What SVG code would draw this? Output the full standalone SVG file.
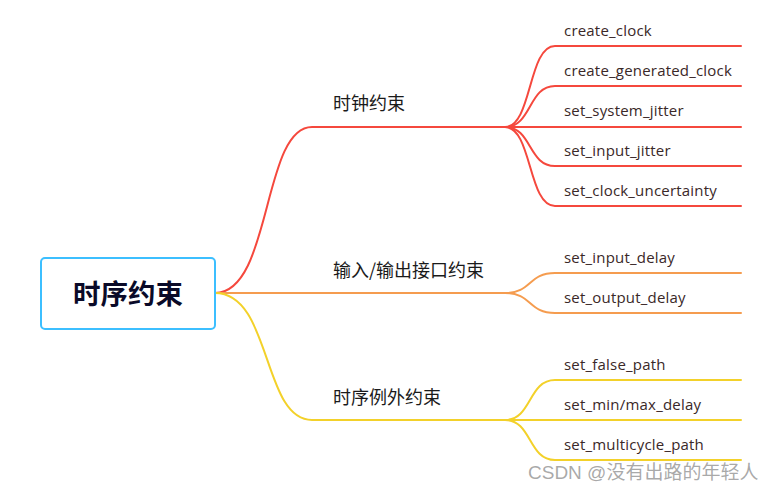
<svg xmlns="http://www.w3.org/2000/svg" width="774" height="495" viewBox="0 0 774 495">
<style>
.c{fill:none;stroke-width:2;stroke-linecap:round}
.r{stroke:#f5483d}
.o{stroke:#f59c4f}
.y{stroke:#f3d12a}
.lf{font-family:"Open Sans","Noto Sans",sans-serif;font-size:15px;letter-spacing:0.2px;fill:#3a2828}
.br{font-family:"Noto Sans CJK SC","Noto Sans",sans-serif;font-size:18px;fill:#1a1a1a}
</style>
<rect width="774" height="495" fill="#ffffff"/>
<g id="connectors">
<path class="c r" d="M215,293 C272,293 262,127 312,127 L505,127"/>
<path class="c o" d="M215,293 L505,293"/>
<path class="c y" d="M215,293 C272,293 262,420 312,420 L505,420"/>
<path class="c r" d="M505,127 C532,127 528,46 555,46 L741,46"/>
<path class="c r" d="M505,127 C532,127 528,86 555,86 L741,86"/>
<path class="c r" d="M505,127 L741,127"/>
<path class="c r" d="M505,127 C532,127 528,166 555,166 L741,166"/>
<path class="c r" d="M505,127 C532,127 528,206 555,206 L741,206"/>
<path class="c o" d="M505,293 C532,293 528,273 555,273 L741,273"/>
<path class="c o" d="M505,293 C532,293 528,313 555,313 L741,313"/>
<path class="c y" d="M505,420 C532,420 528,380 555,380 L741,380"/>
<path class="c y" d="M505,420 L741,420"/>
<path class="c y" d="M505,420 C532,420 528,460 555,460 L741,460"/>
</g>
<g id="root">
<rect x="41" y="258" width="174" height="71" rx="4" fill="#ffffff" stroke="#3cbfff" stroke-width="2"/>
<text x="128" y="304" text-anchor="middle" font-family="'Noto Sans CJK SC','Noto Sans',sans-serif" font-size="27.5" font-weight="bold" fill="#0a0a28">时序约束</text>
</g>
<g id="b1"><text class="br" x="333" y="110">时钟约束</text></g>
<g id="b2"><text class="br" x="333" y="277">输入/输出接口约束</text></g>
<g id="b3"><text class="br" x="333" y="404">时序例外约束</text></g>
<g id="l1"><text class="lf" x="564" y="36">create_clock</text></g>
<g id="l2"><text class="lf" x="564" y="76">create_generated_clock</text></g>
<g id="l3"><text class="lf" x="564" y="116">set_system_jitter</text></g>
<g id="l4"><text class="lf" x="564" y="156">set_input_jitter</text></g>
<g id="l5"><text class="lf" x="564" y="196">set_clock_uncertainty</text></g>
<g id="l6"><text class="lf" x="564" y="263">set_input_delay</text></g>
<g id="l7"><text class="lf" x="564" y="303">set_output_delay</text></g>
<g id="l8"><text class="lf" x="564" y="370">set_false_path</text></g>
<g id="l9"><text class="lf" x="564" y="410">set_min/max_delay</text></g>
<g id="l10"><text class="lf" x="564" y="450">set_multicycle_path</text></g>
<text x="528" y="479" font-family="'Liberation Sans','Noto Sans CJK SC',sans-serif" font-size="19" fill="#9a9a9a" fill-opacity="0.85">CSDN @没有出路的年轻人</text>
</svg>
